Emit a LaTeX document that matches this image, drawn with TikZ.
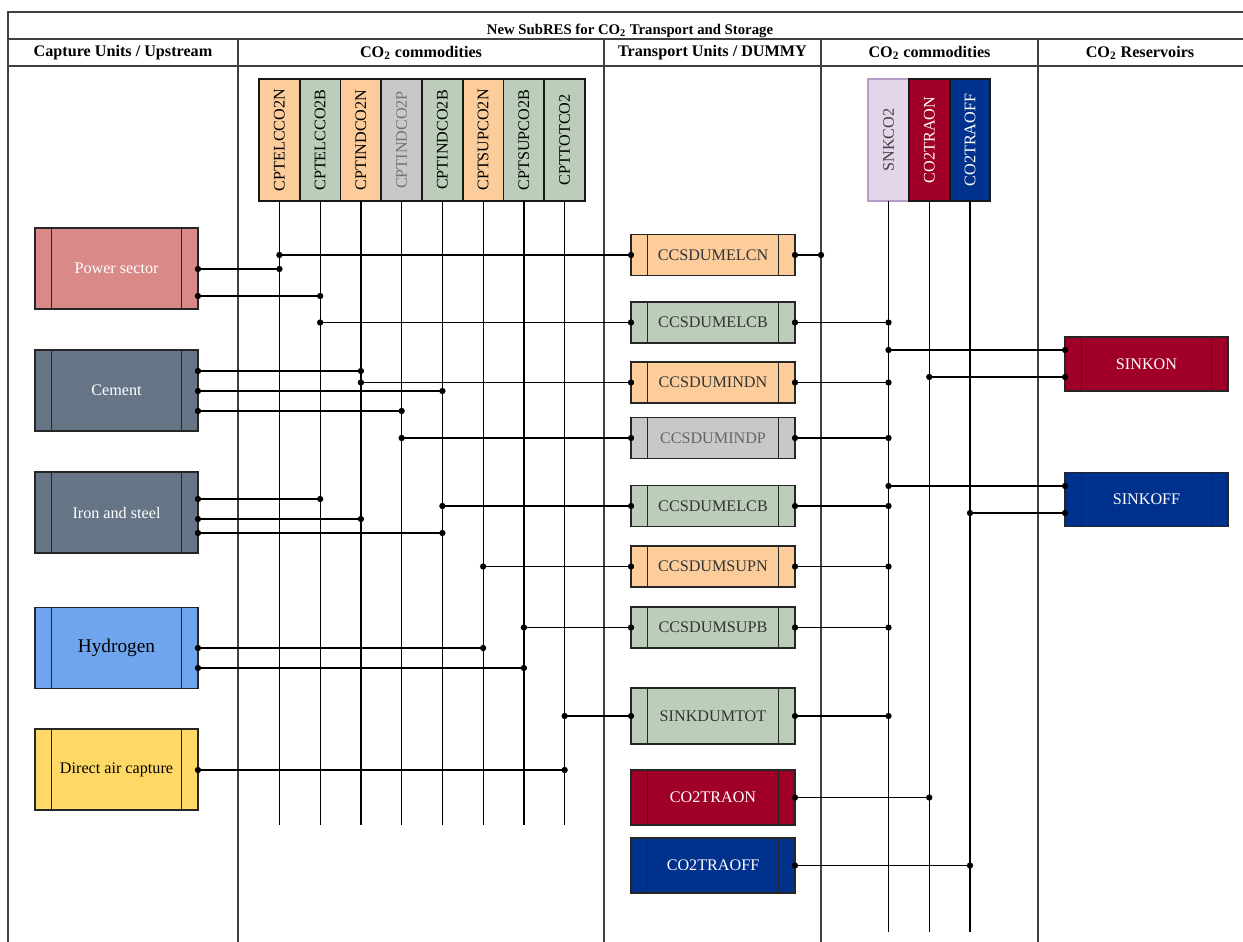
\documentclass[tikz,border=0pt]{standalone}
\usepackage{fontspec}
\setmainfont{Liberation Serif}
\usetikzlibrary{positioning}
\definecolor{pwr}{HTML}{D98A88}
\definecolor{slate}{HTML}{667586}
\definecolor{hyd}{HTML}{6FA5EE}
\definecolor{dac}{HTML}{FFD966}
\definecolor{orng}{HTML}{FCCD9B}
\definecolor{grn}{HTML}{BCCDBA}
\definecolor{gry}{HTML}{C8C8C8}
\definecolor{lav}{HTML}{E2D6E8}
\definecolor{lavd}{HTML}{B49CC4}
\definecolor{sinkred}{HTML}{A00028}
\definecolor{sinkblue}{HTML}{00318D}
\begin{document}
\begin{tikzpicture}[x=.02cm,y=-.02cm,
  tab/.style={line width=.9pt,black!75},
  head/.style={font=\fontsize{9.2}{11}\selectfont\bfseries},
  wire/.style={line width=.7pt},
  dot/.style={circle,fill=black,inner sep=0pt,minimum size=3.6pt},
  box/.style={draw=black!85,line width=.9pt,outer sep=0pt,font=\fontsize{9.2}{11}\selectfont,
    path picture={\draw[line width=1.1pt,black!85]
      ([xshift=.33cm]path picture bounding box.north west)--([xshift=.33cm]path picture bounding box.south west)
      ([xshift=-.33cm]path picture bounding box.north east)--([xshift=-.33cm]path picture bounding box.south east);}},
  proc/.style={box,fill=#1,minimum width=3.26cm,minimum height=1.62cm},
  dum/.style={box,fill=#1,text=black!80,minimum width=3.28cm,minimum height=.82cm},
  sink/.style={box,fill=#1,text=white,minimum width=3.26cm,minimum height=1.08cm},
  comm/.style={draw=black!90,line width=1pt,fill=#1,outer sep=0pt,minimum width=.815cm,minimum height=2.44cm,
    font=\fontsize{9.2}{11}\selectfont}]
  \useasboundingbox (0,0) rectangle (1243,942);
  % table
  \draw[tab] (8,942)--(8,12)--(1243,12); \draw[tab] (8,39)--(1243,39); \draw[tab] (8,66)--(1243,66);
  \coordinate (v1) at (238,39); \coordinate (v2) at (604,39); \coordinate (v3) at (821,39); \coordinate (v4) at (1038,39);
  \foreach \v in {v1,v2,v3,v4} \draw[tab] (\v)--(\v|-0,942);
  \node[head,font=\fontsize{8.4}{10}\selectfont\bfseries] (ttl) at (630,31) {New SubRES for CO\textsubscript{2} Transport and Storage};
  \node[head] (h1) at (123,52.5) {Capture Units / Upstream};
  \node[head] (h2) at (421,52.5) {CO\textsubscript{2} commodities};
  \node[head] (h3) at (712.5,52.5) {Transport Units / DUMMY};
  \node[head] (h4) at (929.5,52.5) {CO\textsubscript{2} commodities};
  \node[head] (h5) at (1140,52.5) {CO\textsubscript{2} Reservoirs};
  % capture units
  \node[proc=pwr,text=white] (pow) at (116.5,268.5) {Power sector};
  \node[proc=slate,text=white] (cem) at (116.5,390.5) {Cement};
  \node[proc=slate,text=white] (irn) at (116.5,512.5) {Iron and steel};
  \node[proc=hyd,font=\fontsize{11}{13}\selectfont] (hyd) at (116.5,648) {Hydrogen};
  \node[proc=dac] (dac) at (116.5,769.5) {Direct air capture};
  % commodities
  \foreach \n/\col/\txt [count=\i] in {CPTELCCO2N/orng/black,CPTELCCO2B/grn/black,CPTINDCO2N/orng/black,CPTINDCO2P/gry/black!55,
      CPTINDCO2B/grn/black,CPTSUPCO2N/orng/black,CPTSUPCO2B/grn/black,CPTTOTCO2/grn/black}
    \node[comm=\col,text=\txt] (c\i) at ({279.4+40.75*(\i-1)},140) {\rotatebox{90}{\n}};
  \node[comm=lav,draw=lavd,text=black!75] (s1) at (888.5,140) {\rotatebox{90}{SNKCO2}};
  \node[comm=sinkred,text=white,right=0pt of s1] (s2) {\rotatebox{90}{CO2TRAON}};
  \node[comm=sinkblue,text=white,right=0pt of s2] (s3) {\rotatebox{90}{CO2TRAOFF}};
  \foreach \i in {1,...,8} \draw[wire] (c\i.south)--(c\i |- 0,825);
  \foreach \i in {1,2,3} \draw[wire] (s\i.south)--(s\i |- 0,932);
  % transport units / dummy
  \node[dum=orng] (m1) at (713,255) {CCSDUMELCN};
  \node[dum=grn] (m2) at (713,322.5) {CCSDUMELCB};
  \node[dum=orng] (m3) at (713,382.5) {CCSDUMINDN};
  \node[dum=gry,text=black!60] (m4) at (713,438) {CCSDUMINDP};
  \node[dum=grn] (m5) at (713,506) {CCSDUMELCB};
  \node[dum=orng] (m6) at (713,566.5) {CCSDUMSUPN};
  \node[dum=grn] (m7) at (713,627.5) {CCSDUMSUPB};
  \node[dum=grn,minimum height=1.12cm] (m8) at (713,716) {SINKDUMTOT};
  \node[dum=sinkred,text=white,minimum height=1.1cm] (m9) at (713,797.5) {CO2TRAON};
  \node[dum=sinkblue,text=white,minimum height=1.1cm] (m10) at (713,865.5) {CO2TRAOFF};
  % reservoirs
  \node[sink=sinkred] (son) at (1146.5,364) {SINKON};
  \node[sink=sinkblue] (sof) at (1146.5,499.5) {SINKOFF};
  % capture -> commodities
  \draw[wire] (pow.east |- 0,269) node[dot]{} -- (c1 |- 0,269) node[dot]{};
  \draw[wire] (pow.east |- 0,296) node[dot]{} -- (c2 |- 0,296) node[dot]{};
  \draw[wire] (cem.east |- 0,371) node[dot]{} -- (c3 |- 0,371) node[dot]{};
  \draw[wire] (cem.east |- 0,391) node[dot]{} -- (c5 |- 0,391) node[dot]{};
  \draw[wire] (cem.east |- 0,411) node[dot]{} -- (c4 |- 0,411) node[dot]{};
  \draw[wire] (irn.east |- 0,499) node[dot]{} -- (c2 |- 0,499) node[dot]{};
  \draw[wire] (irn.east |- 0,519) node[dot]{} -- (c3 |- 0,519) node[dot]{};
  \draw[wire] (irn.east |- 0,533) node[dot]{} -- (c5 |- 0,533) node[dot]{};
  \draw[wire] (hyd.east |- 0,648) node[dot]{} -- (c6 |- 0,648) node[dot]{};
  \draw[wire] (hyd.east |- 0,668) node[dot]{} -- (c7 |- 0,668) node[dot]{};
  \draw[wire] (dac.east |- 0,770) node[dot]{} -- (c8 |- 0,770) node[dot]{};
  % commodities -> dummy
  \draw[wire] (c1 |- m1.west) node[dot]{} -- (m1.west) node[dot]{};
  \draw[wire] (c2 |- m2.west) node[dot]{} -- (m2.west) node[dot]{};
  \draw[wire] (c3 |- m3.west) node[dot]{} -- (m3.west) node[dot]{};
  \draw[wire] (c4 |- m4.west) node[dot]{} -- (m4.west) node[dot]{};
  \draw[wire] (c5 |- m5.west) node[dot]{} -- (m5.west) node[dot]{};
  \draw[wire] (c6 |- m6.west) node[dot]{} -- (m6.west) node[dot]{};
  \draw[wire] (c7 |- m7.west) node[dot]{} -- (m7.west) node[dot]{};
  \draw[wire] (c8 |- m8.west) node[dot]{} -- (m8.west) node[dot]{};
  % dummy -> commodities
  \draw[wire] (m1.east) node[dot]{} -- (v3 |- m1.east) node[dot]{};
  \foreach \m in {m2,m3,m4,m5,m6,m7,m8} \draw[wire] (\m.east) node[dot]{} -- (s1 |- \m.east) node[dot]{};
  \draw[wire] (m9.east) node[dot]{} -- (s2 |- m9.east) node[dot]{};
  \draw[wire] (m10.east) node[dot]{} -- (s3 |- m10.east) node[dot]{};
  % commodities -> reservoirs
  \draw[wire] (s1 |- 0,350) node[dot]{} -- (son.west |- 0,350) node[dot]{};
  \draw[wire] (s2 |- 0,377) node[dot]{} -- (son.west |- 0,377) node[dot]{};
  \draw[wire] (s1 |- 0,486) node[dot]{} -- (sof.west |- 0,486) node[dot]{};
  \draw[wire] (s3 |- 0,513) node[dot]{} -- (sof.west |- 0,513) node[dot]{};
\end{tikzpicture}
\end{document}
